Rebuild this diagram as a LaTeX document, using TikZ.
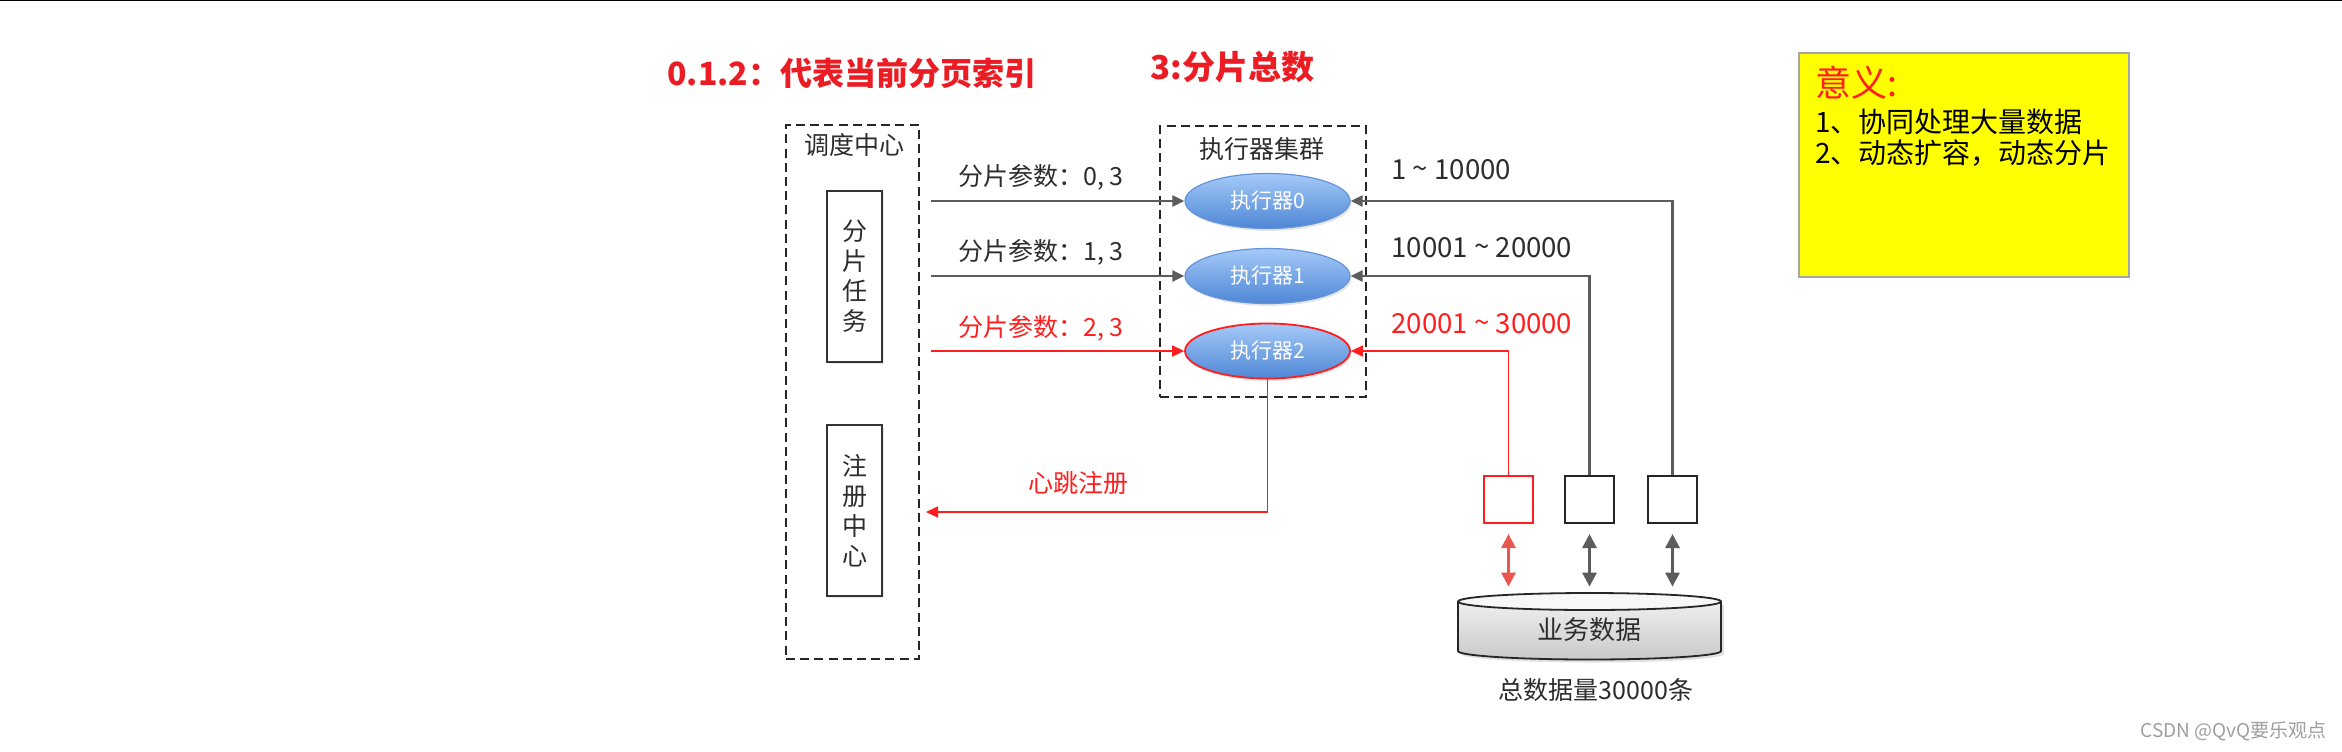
\documentclass[tikz,border=0pt]{standalone}
\usepackage{fontspec}
\setmainfont{Noto Sans CJK SC}
\usetikzlibrary{arrows.meta,shadows,shapes.geometric,calc}
\definecolor{tred}{RGB}{236,28,36}
\definecolor{lred}{RGB}{255,30,30}
\definecolor{dred}{RGB}{232,88,78}
\definecolor{lgray}{RGB}{92,92,92}
\definecolor{txt}{RGB}{45,45,45}
\definecolor{eltop}{RGB}{165,202,248}
\definecolor{elbot}{RGB}{78,134,214}
\definecolor{elbd}{RGB}{100,148,215}
\definecolor{notey}{RGB}{255,255,0}
\begin{document}
\begin{tikzpicture}[x=0.5pt,y=-0.5pt,
  dbox/.style={draw=black!85, line width=1.25pt, dash pattern=on 4.5pt off 2.6pt, minimum width=#1, inner sep=0pt},
  vbox/.style={draw=black!80, line width=1pt, fill=white, minimum width=27.5pt, minimum height=85.5pt, inner sep=0pt, align=center, font=\fontsize{12.5}{15}\selectfont, text=txt, drop shadow={opacity=0.18, shadow xshift=1pt, shadow yshift=-1pt}},
  exec/.style={ellipse, minimum width=82.5pt, minimum height=27.5pt, inner sep=0pt, top color=eltop, bottom color=elbot, draw=elbd, line width=0.6pt, text=white, font=\fontsize{10.5}{12}\selectfont, drop shadow={opacity=0.2, shadow xshift=0.8pt, shadow yshift=-1.2pt}},
  dat/.style={draw=black!85, line width=1pt, fill=white, minimum width=24.5pt, minimum height=23.5pt, inner sep=0pt},
  lbl/.style={font=\fontsize{12.5}{14}\selectfont, text=txt, inner sep=0pt},
  rng/.style={font=\fontsize{13.8}{16}\selectfont, text=txt, inner sep=0pt, anchor=west},
  garr/.style={draw=lgray, line width=1.3pt, -{Triangle[length=6pt,width=5.5pt]}},
  rarr/.style={draw=lred, line width=0.9pt, -{Triangle[length=6pt,width=5.5pt]}},
  dgarr/.style={draw=lgray, line width=1.4pt, {Triangle[length=7pt,width=7pt]}-{Triangle[length=7pt,width=7pt]}, shorten <=5pt, shorten >=3pt},
  drarr/.style={draw=dred, line width=1.4pt, {Triangle[length=7pt,width=7pt]}-{Triangle[length=7pt,width=7pt]}, shorten <=5pt, shorten >=3pt},
]
\useasboundingbox (0,0) rectangle (2342,751);
\fill[white] (0,0) rectangle (2342,751);
\draw[black, line width=0.6pt] (0,0.6) -- (2342,0.6);

% titles
\node[anchor=west, inner sep=0pt, text=tred, font=\fontsize{16}{20}\selectfont\bfseries] (t1) at (667,73) {0.1.2：代表当前分页索引};
\node[anchor=west, inner sep=0pt, text=tred, font=\fontsize{16.5}{20}\selectfont\bfseries] (t2) at (1150,67) {3:分片总数};

% scheduler
\node[dbox=66.5pt, minimum height=267pt] (sched) at (852.5,392) {};
\node[lbl] (schedl) at (854,145) {调度中心};
\node[vbox] (task) at (854.5,276.5) {分\\片\\任\\务};
\node[vbox] (reg) at (854.5,510.5) {注\\册\\中\\心};

% executors
\node[dbox=103pt, minimum height=135.5pt] (cluster) at (1263,261.5) {};
\node[lbl] (clusterl) at (1262,149) {执行器集群};
\node[exec] (e0) at (1267.5,201) {执行器0};
\node[exec] (e1) at (1267.5,276) {执行器1};
\node[exec, draw=lred, line width=0.9pt] (e2) at (1267.5,351) {执行器2};

% shard arrows
\coordinate (s0) at (931,201);
\coordinate (s1) at (931,276);
\coordinate (s2) at (931,351);
\draw[garr] (s0) -- (e0.west);
\draw[garr] (s1) -- (e1.west);
\draw[rarr] (s2) -- (e2.west);
\node[lbl] (p0) at (1041,177) {分片参数：0, 3};
\node[lbl] (p1) at (1041,252) {分片参数：1, 3};
\node[lbl, text=lred] (p2) at (1041,328) {分片参数：2, 3};

% heartbeat
\coordinate (hb) at (926,512);
\draw[rarr] (e2.south) |- (hb);
\node[lbl, text=lred] (hbl) at (1078,483) {心跳注册};

% data boxes
\node[dat, draw=lred] (b1) at (1508.5,499.5) {};
\node[dat] (b2) at (1589.5,499.5) {};
\node[dat] (b3) at (1672.5,499.5) {};
\draw[garr] (b3.north) |- (e0.east);
\draw[garr] (b2.north) |- (e1.east);
\draw[rarr] (b1.north) |- (e2.east);
\node[rng] (r0) at (1391,170) {1 \raisebox{0.1ex}{\textasciitilde} 10000};
\node[rng] (r1) at (1391,248) {10001 \raisebox{0.1ex}{\textasciitilde} 20000};
\node[rng, text=lred] (r2) at (1391,324) {20001 \raisebox{0.1ex}{\textasciitilde} 30000};

% database cylinder
\fill[black, opacity=0.12] (1461,604.5) -- (1461,654) arc (180:0:131.5 and 8.5) -- (1724,604.5) -- cycle;
\shade[top color=gray!8, bottom color=gray!42] (1458,601.5) -- (1458,651) arc (180:0:131.5 and 8.5) -- (1721,601.5) arc (0:-180:131.5 and 8.5) -- cycle;
\draw[black!85, line width=0.9pt] (1458,601.5) -- (1458,651) arc (180:0:131.5 and 8.5) -- (1721,601.5);
\draw[black!85, line width=0.9pt, fill=gray!6] (1589.5,601.5) ellipse (131.5 and 8.5);
\node[minimum width=131.5pt, minimum height=33.5pt, inner sep=0pt] (db) at (1589.5,626.5) {};
\node[lbl, font=\fontsize{13}{14}\selectfont] (dbl) at (1589,630) {业务数据};
\node[lbl] (total) at (1596,690) {总数据量30000条};
\draw[drarr] (b1.south) -- (b1.south |- db.north);
\draw[dgarr] (b2.south) -- (b2.south |- db.north);
\draw[dgarr] (b3.south) -- (b3.south |- db.north);

% note
\node[draw=gray!70, line width=0.6pt, fill=notey, minimum width=165pt, minimum height=112pt, inner sep=0pt] (note) at (1964,165) {};
\node[anchor=west, inner sep=0pt, text=lred, font=\fontsize{18}{20}\selectfont] (n0) at (1815,83) {意义:};
\node[anchor=west, inner sep=0pt, text=black, font=\fontsize{14}{17}\selectfont] (n1) at (1815,122) {1、协同处理大量数据};
\node[anchor=west, inner sep=0pt, text=black, font=\fontsize{14}{17}\selectfont] (n2) at (1815,153) {2、动态扩容，动态分片};

% watermark
\node[anchor=east, inner sep=0pt, text=gray!75, font=\fontsize{9.5}{11}\selectfont] (wm) at (2327,731) {CSDN @QvQ要乐观点};
\end{tikzpicture}
\end{document}
